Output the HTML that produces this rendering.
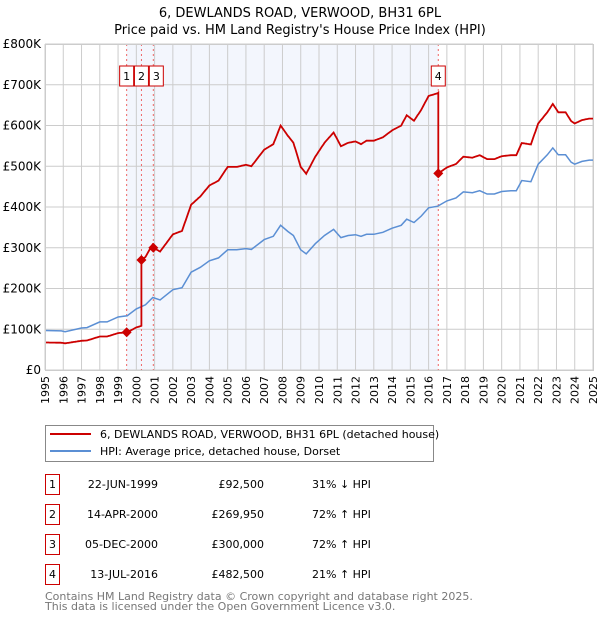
<!DOCTYPE html>
<html><head><meta charset="utf-8"><style>
body{margin:0;background:#fff;width:600px;height:620px;overflow:hidden;font-family:"DejaVu Sans","Liberation Sans",sans-serif;}
svg text{font-family:"DejaVu Sans","Liberation Sans",sans-serif;}
</style></head><body>
<svg id="c" width="600" height="620" xmlns="http://www.w3.org/2000/svg">
<text x="300" y="17" text-anchor="middle" font-size="13" fill="#000">6, DEWLANDS ROAD, VERWOOD, BH31 6PL</text>
<text x="300" y="34" text-anchor="middle" font-size="13" fill="#000">Price paid vs. HM Land Registry's House Price Index (HPI)</text>
<g id="plot"></g>
<rect x="45.5" y="425.5" width="388" height="36" fill="#fff" stroke="#888"/>
<line x1="50" y1="434" x2="91" y2="434" stroke="#cc0000" stroke-width="2"/>
<text x="100" y="438" font-size="11">6, DEWLANDS ROAD, VERWOOD, BH31 6PL (detached house)</text>
<line x1="50" y1="451" x2="91" y2="451" stroke="#5b8fd4" stroke-width="2"/>
<text x="100" y="455" font-size="11">HPI: Average price, detached house, Dorset</text>
<g id="table" font-size="11"></g>
<text x="45" y="600" font-size="11" fill="#777">Contains HM Land Registry data © Crown copyright and database right 2025.</text>
<text x="45" y="610" font-size="11" fill="#777">This data is licensed under the Open Government Licence v3.0.</text>
</svg>
<script>
const yearTicks=[1995,1996,1997,1998,1999,2000,2001,2002,2003,2004,2005,2006,2007,2008,2009,2010,2011,2012,2013,2014,2015,2016,2017,2018,2019,2020,2021,2022,2023,2024,2025];
const priceTicks=[0,100000,200000,300000,400000,500000,600000,700000,800000];
const priceTickLabels=["£0","£100K","£200K","£300K","£400K","£500K","£600K","£700K","£800K"];
const hpiYears=[1995,1995.9,1996.1,1997,1997.3,1998,1998.4,1999,1999.5,2000,2000.5,2000.9,2001.3,2002,2002.5,2003,2003.5,2004,2004.5,2005,2005.5,2006,2006.3,2007,2007.5,2007.9,2008.3,2008.6,2009,2009.3,2009.8,2010.3,2010.8,2011.2,2011.6,2012,2012.3,2012.6,2013,2013.5,2014,2014.5,2014.8,2015.2,2015.6,2016,2016.5,2017,2017.5,2017.9,2018.4,2018.8,2019.2,2019.6,2020,2020.5,2020.8,2021.1,2021.6,2022,2022.5,2022.8,2023.1,2023.5,2023.8,2024,2024.4,2024.8,2025];
const hpiValues=[97000,96000,94000,103000,104000,118000,118000,130000,133000,150000,160000,178000,172000,197000,202000,240000,252000,268000,275000,295000,295000,298000,296000,320000,328000,355000,340000,330000,295000,285000,310000,330000,345000,325000,330000,332000,328000,333000,333000,338000,348000,355000,370000,362000,378000,398000,402000,415000,422000,437000,435000,440000,432000,432000,438000,440000,440000,465000,462000,505000,528000,545000,528000,528000,510000,505000,512000,515000,515000];
const saleYears=[1999.47,2000.28,2000.93,2016.53];
const salePrices=[92500,269950,300000,482500];
const saleLabels=["1","2","3","4"];
const saleDates=["22-JUN-1999","14-APR-2000","05-DEC-2000","13-JUL-2016"];
const salePriceText=["£92,500","£269,950","£300,000","£482,500"];
const saleHpiText=["31% ↓ HPI","72% ↑ HPI","72% ↑ HPI","21% ↑ HPI"];

const NS="http://www.w3.org/2000/svg";
const X0=45,X1=593,Y0=370,Y1=44;
const xs=y=>X0+(y-1995)/(2025-1995)*(X1-X0);
const ys=v=>Y0-v/800000*(Y0-Y1);
function mk(tag,attrs,parent){const e=document.createElementNS(NS,tag);for(const k in attrs)e.setAttribute(k,attrs[k]);parent.appendChild(e);return e;}
function hpiAt(t){if(t<=hpiYears[0])return hpiValues[0];for(let i=1;i<hpiYears.length;i++){if(t<=hpiYears[i]){const f=(t-hpiYears[i-1])/(hpiYears[i]-hpiYears[i-1]);return hpiValues[i-1]+f*(hpiValues[i]-hpiValues[i-1]);}}return hpiValues[hpiValues.length-1];}
const P=document.getElementById('plot');
const bg=mk('rect',{x:X0,y:Y1,width:X1-X0,height:Y0-Y1,fill:'#fff'},P);


const sh=mk('rect',{x:xs(saleYears[0]),y:Y1,width:xs(saleYears[3])-xs(saleYears[0]),height:Y0-Y1,fill:'#f3f6fd'},P);


yearTicks.forEach(y=>{
 const l=mk('line',{x1:xs(y),x2:xs(y),y1:Y1,y2:Y0,stroke:'#ccc','stroke-width':1},P);
 
 
 const t=mk('text',{x:0,y:0,'font-size':11,'text-anchor':'end',transform:`translate(${xs(y)+4},${Y0+6}) rotate(-90)`},P);
 t.textContent=y;
 
 
});
priceTicks.forEach((v,i)=>{
 const l=mk('line',{x1:X0,x2:X1,y1:ys(v),y2:ys(v),stroke:'#ccc','stroke-width':1},P);
 
 
 const t=mk('text',{x:X0-4,y:ys(v)+4,'font-size':12,'text-anchor':'end'},P);
 t.textContent=priceTickLabels[i];
 
 
});
saleYears.forEach((y,i)=>{
 const l=mk('line',{x1:xs(y),x2:xs(y),y1:Y1,y2:Y0,stroke:'#e66','stroke-width':1,'stroke-dasharray':'2,3'},P);
 
 
});
// HPI line
let d='';
hpiYears.forEach((y,i)=>{d+=(i?'L':'M')+xs(y).toFixed(1)+','+ys(hpiValues[i]).toFixed(1);});
const hl=mk('path',{d:d,fill:'none',stroke:'#5b8fd4','stroke-width':1.5},P);


// property line: indexed from most recent sale
let pd='';let first=true;
for(let t=1995;t<=2025.001;t+=0.05){
 let k=-1;for(let i=0;i<saleYears.length;i++)if(saleYears[i]<=t)k=i;
 let v;
 if(k<0)v=salePrices[0]*hpiAt(t)/hpiAt(saleYears[0]);
 else v=salePrices[k]*hpiAt(t)/hpiAt(saleYears[k]);
 // add vertical at sale times
 pd+=(first?'M':'L')+xs(t).toFixed(1)+','+ys(v).toFixed(1);first=false;
 const next=saleYears.find(s=>s>t&&s<=t+0.05);
 if(next!==undefined){const idx=saleYears.indexOf(next);
  const prev=idx>0?salePrices[idx-1]*hpiAt(next)/hpiAt(saleYears[idx-1]):salePrices[0]*hpiAt(next)/hpiAt(saleYears[0]);
  pd+='L'+xs(next).toFixed(1)+','+ys(prev).toFixed(1)+'L'+xs(next).toFixed(1)+','+ys(salePrices[idx]).toFixed(1);}
}
const pl=mk('path',{d:pd,fill:'none',stroke:'#cc0000','stroke-width':1.8},P);


saleYears.forEach((y,i)=>{
 const cx=xs(y),cy=ys(salePrices[i]);
 const m=mk('path',{d:`M${cx},${cy-5}L${cx+5},${cy}L${cx},${cy+5}L${cx-5},${cy}Z`,fill:'#cc0000'},P);
 
 
});
const boxX=[xs(saleYears[0])-7,xs(saleYears[1])-7,xs(saleYears[2])-4,xs(saleYears[3])-7];
saleYears.forEach((y,i)=>{
 const g=mk('g',{},P);
 
 
 mk('rect',{x:boxX[i],y:66,width:14,height:20,fill:'#fff',stroke:'#cc0000'},g);
 const t=mk('text',{x:boxX[i]+7,y:80,'font-size':11,'text-anchor':'middle'},g);
 t.textContent=saleLabels[i];
});
mk('rect',{x:X0+0.5,y:Y1+0.5,width:X1-X0,height:Y0-Y1,fill:'none',stroke:'#ccc'},P);
// table
const T=document.getElementById('table');
const rowY=[484,514,544,574];
saleLabels.forEach((s,i)=>{
 const g=mk('g',{},T);
 
 
 mk('rect',{x:45.5,y:rowY[i]-9.5,width:14,height:20,fill:'#fff',stroke:'#cc0000'},g);
 const a=mk('text',{x:52.5,y:rowY[i]+4,'text-anchor':'middle'},g);a.textContent=s;
 const b=mk('text',{x:158,y:rowY[i]+4,'text-anchor':'end'},g);b.textContent=saleDates[i];
 const c=mk('text',{x:264,y:rowY[i]+4,'text-anchor':'end'},g);c.textContent=salePriceText[i];
 const e=mk('text',{x:312,y:rowY[i]+4},g);e.textContent=saleHpiText[i];
});
</script>
</body></html>
